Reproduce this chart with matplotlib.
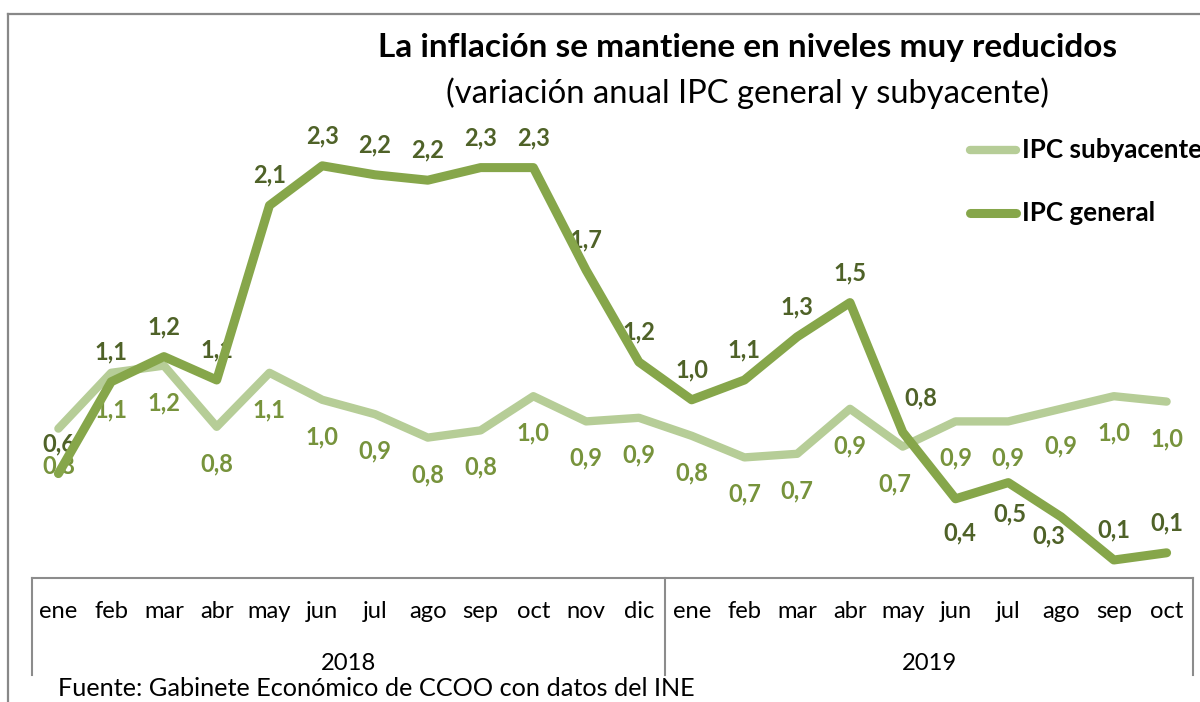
import matplotlib
matplotlib.use("Agg")
import matplotlib.pyplot as plt
from matplotlib.lines import Line2D
from matplotlib.transforms import blended_transform_factory, offset_copy

# ---------------- data ----------------
months = ["ene", "feb", "mar", "abr", "may", "jun", "jul", "ago", "sep", "oct", "nov", "dic",
          "ene", "feb", "mar", "abr", "may", "jun", "jul", "ago", "sep", "oct"]
years = ["2018", "2019"]
year_counts = [12, 10]

ipc_general = [0.58, 1.09, 1.23, 1.10, 2.07, 2.29, 2.24, 2.21, 2.28, 2.28, 1.71, 1.20,
               0.99, 1.10, 1.34, 1.53, 0.81, 0.44, 0.53, 0.34, 0.10, 0.14]
ipc_subyacente = [0.83, 1.14, 1.18, 0.84, 1.14, 0.99, 0.91, 0.78, 0.82, 1.01, 0.87, 0.89,
                  0.79, 0.67, 0.69, 0.94, 0.73, 0.87, 0.87, 0.94, 1.01, 0.98]

title = "La inflación se mantiene en niveles muy reducidos"
subtitle = "(variación anual IPC general y subyacente)"
source = "Fuente: Gabinete Económico de CCOO con datos del INE"
name_general = "IPC general"
name_sub = "IPC subyacente"

# ---------------- style ----------------
FONT = ["Lato", "DejaVu Sans"]
plt.rcParams["font.family"] = FONT
C_GEN = "#86A64A"
C_SUB = "#B6CD97"
C_GEN_LBL = "#4F6228"
C_SUB_LBL = "#77933C"
C_BOX = "#8C8C8C"

W, H, DPI = 1200, 702, 100
fig = plt.figure(figsize=(W / DPI, H / DPI), dpi=DPI)
fig.patch.set_facecolor("white")

def px(x, y):
    return x / W, 1 - y / H

ax_left, ax_right, ax_top, ax_bot = 32, 1193, 128, 578
ax = fig.add_axes([ax_left / W, 1 - ax_bot / H, (ax_right - ax_left) / W, (ax_bot - ax_top) / H])
ax.set_xlim(-0.5, len(months) - 0.5)
ax.set_ylim(0, 2.5)
for s in ["left", "right", "top"]:
    ax.spines[s].set_visible(False)
ax.spines["bottom"].set_color(C_BOX)
ax.spines["bottom"].set_linewidth(1.5)
ax.set_yticks([])
ax.set_xticks([])
ax.patch.set_alpha(0)

x = list(range(len(months)))
ax.plot(x, ipc_subyacente, color=C_SUB, lw=6.0, solid_capstyle="round",
        solid_joinstyle="round", zorder=3)
ax.plot(x, ipc_general, color=C_GEN, lw=6.5, solid_capstyle="round",
        solid_joinstyle="round", zorder=4)

# ---------------- font size fitting helpers ----------------
def text_width(t):
    fig.canvas.draw()
    return t.get_window_extent(fig.canvas.get_renderer()).width

def fit(t, target):
    for _ in range(2):
        w = text_width(t)
        t.set_fontsize(t.get_fontsize() * target / w)

probe = fig.text(0, 0, "2,1", fontsize=15, fontweight="bold")
fit(probe, 33)
LBL_FS = probe.get_fontsize()
probe.remove()
probe = fig.text(0, 0, "2018", fontsize=12)
fit(probe, 55)
AX_FS = probe.get_fontsize()
probe.remove()

def fmt(v):
    return f"{v:.1f}".replace(".", ",")

# data label offsets in pixels (dx, dy screen-up)
gen_off = {i: (0, 30) for i in range(len(months))}
gen_off[16] = (18, 34)
gen_off[17] = (4, -34)
gen_off[18] = (2, -31)
gen_off[19] = (-12, -19)
sub_off = {i: (0, -37) for i in range(len(months))}
sub_off[16] = (-8, -37)

def add_label(xi, v, off, color):
    tr = offset_copy(ax.transData, fig=fig, x=off[0], y=off[1], units="dots")
    ax.text(xi, v, fmt(v), transform=tr, ha="center", va="center", fontsize=LBL_FS,
            fontweight="bold", color=color, zorder=2)

for i, v in enumerate(ipc_general):
    add_label(i, v, gen_off[i], C_GEN_LBL)
for i, v in enumerate(ipc_subyacente):
    add_label(i, v, sub_off[i], C_SUB_LBL)

# ---------------- category axis box ----------------
bt = blended_transform_factory(ax.transData, ax.transAxes)
axh = ax_bot - ax_top
y_month = -(612 - ax_bot) / axh
y_year = -(664 - ax_bot) / axh
y_boxbot = -(675 - ax_bot) / axh
for i, m in enumerate(months):
    ax.text(i, y_month, m, transform=bt, ha="center", va="center", fontsize=AX_FS, color="black")
bounds = [-0.5]
for c in year_counts:
    bounds.append(bounds[-1] + c)
for b in bounds:
    ax.add_line(Line2D([b, b], [0, y_boxbot], transform=bt, color=C_BOX, lw=1.5, clip_on=False))
for k, yr in enumerate(years):
    ax.text((bounds[k] + bounds[k + 1]) / 2, y_year, yr, transform=bt, ha="center", va="center",
            fontsize=AX_FS, color="black")

# ---------------- outer frame ----------------
fig.add_artist(Line2D([8 / W, 8 / W], [1 - 14 / H, 0], transform=fig.transFigure, color="#888888", lw=1.6))
fig.add_artist(Line2D([8 / W, 1.0], [1 - 14 / H, 1 - 14 / H], transform=fig.transFigure, color="#888888", lw=1.6))

# ---------------- titles ----------------
t1 = fig.text(*px(748, 47), title, ha="center", va="center", fontsize=22, fontweight="bold", color="black")
fit(t1, 740)
t2 = fig.text(*px(748, 93), subtitle, ha="center", va="center", fontsize=21, color="black")
fit(t2, 603)
t3 = fig.text(*px(58, 689), source, ha="left", va="center", fontsize=18, color="black")
fit(t3, 638)

# ---------------- legend ----------------
lg = fig.text(*px(1022, 213), name_general, ha="left", va="center", fontsize=16, fontweight="bold", color="black")
fit(lg, 133)
LEG_FS = lg.get_fontsize()
fig.text(*px(1022, 150), name_sub, ha="left", va="center", fontsize=LEG_FS, fontweight="bold", color="black")
fig.add_artist(Line2D([970 / W, 1016 / W], [1 - 150 / H] * 2, transform=fig.transFigure, color=C_SUB,
                      lw=6.0, solid_capstyle="round"))
fig.add_artist(Line2D([970 / W, 1016 / W], [1 - 213 / H] * 2, transform=fig.transFigure, color=C_GEN,
                      lw=6.5, solid_capstyle="round"))

fig.savefig("out.png", dpi=DPI, facecolor="white")
